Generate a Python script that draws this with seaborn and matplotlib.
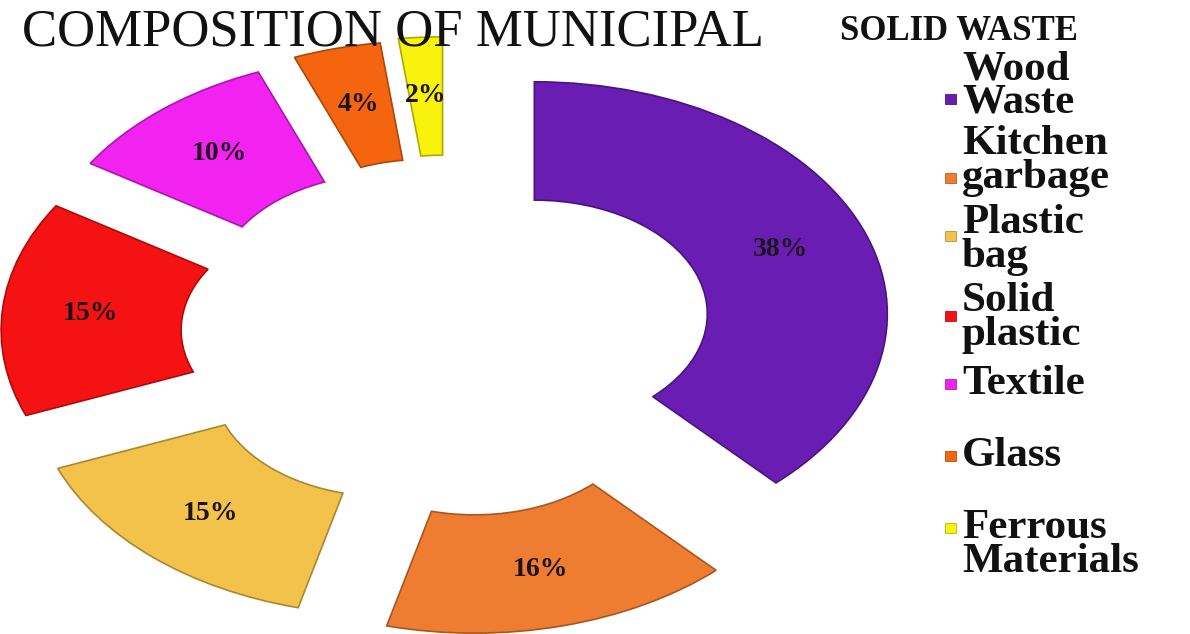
import matplotlib
matplotlib.use("Agg")
import matplotlib.pyplot as plt
import matplotlib.colors as mcolors
from matplotlib.patches import Rectangle
import seaborn as sns

# ---- data ----
categories = ["Wood\nWaste", "Kitchen\ngarbage", "Plastic\nbag", "Solid\nplastic",
              "Textile", "Glass", "Ferrous\nMaterials"]
values = [38, 16, 15, 15, 10, 4, 2]
colors = ["#6A1DB2", "#EE7D32", "#F2C24A", "#F51212", "#F222F0", "#F5650F", "#F8F20C"]
title_main = "COMPOSITION OF MUNICIPAL"
title_tail = "SOLID WASTE"

sns.set_theme(style="white")
plt.rcParams["font.family"] = ["Liberation Serif", "DejaVu Serif"]

W, H = 1190, 634
fig = plt.figure(figsize=(W / 100, H / 100), dpi=100)
ax = fig.add_axes([0, 0, 1, 1])

explode = [0.26, 0.29, 0.27, 0.27, 0.27, 0.28, 0.29]
wedges, texts, autotexts = ax.pie(
    values, colors=colors, explode=explode, startangle=90, counterclock=False,
    radius=1.0, wedgeprops=dict(width=0.51, linewidth=1.2),
    autopct=lambda p: f"{p:.0f}%", pctdistance=0.75,
    textprops=dict(fontsize=20, fontweight="bold", color="#1e141e"))
for w, c in zip(wedges, colors):
    r, g, b = mcolors.to_rgb(c)
    w.set_edgecolor((r * 0.7, g * 0.7, b * 0.7))

# stretch horizontally like the reference (pixel mapping)
cx, cy, rx, ry = 449, 336, 353, 232
ax.set_xlim((0 - cx) / rx, (W - cx) / rx)
ax.set_ylim((cy - H) / ry, cy / ry)
ax.set_aspect("auto")
ax.axis("off")

# title
fig.text(22 / W, 1 - 32 / H, title_main, fontsize=38, ha="left", va="center",
         color="#111111")
fig.text(840 / W, 1 - 31 / H, title_tail, fontsize=25, fontweight="bold",
         ha="left", va="center", color="#111111")

# legend (manual, to mimic spacing)
text_centers = [86, 161, 240, 318, 384, 456, 545]
marker_centers = [99, 178, 236, 316, 384, 456, 528]
for lab, col, ty, my in zip(categories, colors, text_centers, marker_centers):
    fig.text(962 / W, 1 - ty / H, lab, fontsize=31, fontweight="bold",
             ha="left", va="center", linespacing=0.84, color="#111111")
    r, g, b = mcolors.to_rgb(col)
    fig.add_artist(Rectangle(((945) / W, 1 - (my + 5) / H), 11 / W, 10 / H,
                             transform=fig.transFigure, facecolor=col,
                             edgecolor=(r * 0.75, g * 0.75, b * 0.75), linewidth=0.6))

fig.savefig("out.png", dpi=100)
